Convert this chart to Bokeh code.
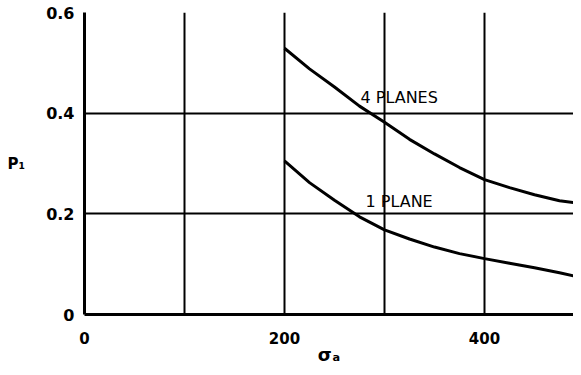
from bokeh.plotting import figure
from bokeh.models import FixedTicker, Label, Range1d
from bokeh.embed import file_html
from bokeh.resources import INLINE

# data
sigma_4 = [200, 225, 250, 275, 300, 325, 350, 375, 400, 425, 450, 475, 497]
p_4 = [0.529, 0.488, 0.452, 0.414, 0.382, 0.348, 0.319, 0.292, 0.268, 0.252, 0.238, 0.226, 0.220]
sigma_1 = [200, 225, 250, 275, 300, 325, 350, 375, 400, 425, 450, 475, 497]
p_1 = [0.305, 0.262, 0.227, 0.194, 0.168, 0.150, 0.134, 0.121, 0.111, 0.102, 0.093, 0.083, 0.073]
x_ticks = [0, 200, 400]
y_ticks = [0, 0.2, 0.4, 0.6]
y_tick_labels = {0: "0", 0.2: "0.2", 0.4: "0.4", 0.6: "0.6"}
x_grid = [100, 200, 300, 400]
y_grid = [0.2, 0.4, 0.6]
x_title = "σₐ"
y_title = "P₁"

FONT = "DejaVu Sans"

p = figure(width=573, height=367, output_backend="svg", toolbar_location=None,
           x_range=Range1d(0, 489), y_range=Range1d(0, 0.6),
           min_border_left=84, min_border_right=0, min_border_top=12, min_border_bottom=53)
p.outline_line_color = None
p.background_fill_color = "white"
p.border_fill_color = "white"

p.xaxis.ticker = FixedTicker(ticks=x_ticks)
p.yaxis.ticker = FixedTicker(ticks=y_ticks)
p.yaxis.major_label_overrides = y_tick_labels
p.xgrid.ticker = FixedTicker(ticks=x_grid)
p.ygrid.ticker = FixedTicker(ticks=y_grid)
for g in (p.xgrid, p.ygrid):
    g.grid_line_color = "black"
    g.grid_line_width = 2
    g.grid_line_alpha = 1

for ax in (p.xaxis, p.yaxis):
    ax.axis_line_color = "black"
    ax.axis_line_width = 3
    ax.major_tick_line_color = None
    ax.minor_tick_line_color = None
    ax.major_label_text_font = FONT
    ax.major_label_text_font_style = "bold"
    ax.major_label_text_font_size = "15px"
    ax.major_label_text_color = "black"
    ax.axis_label_text_font = FONT
    ax.axis_label_text_font_style = "bold"
    ax.axis_label_text_color = "black"
p.yaxis.major_label_text_font_size = "16px"
p.yaxis.major_label_standoff = 4
p.xaxis.major_label_standoff = 11

p.xaxis.axis_label = x_title
p.xaxis.axis_label_text_font_size = "18px"
p.xaxis.axis_label_standoff = -3

p.yaxis.axis_label = y_title
p.yaxis.axis_label_text_font_size = "15px"
p.yaxis.axis_label_standoff = 18
p.yaxis.axis_label_orientation = "horizontal"

p.line(sigma_4, p_4, line_color="black", line_width=3)
p.line(sigma_1, p_1, line_color="black", line_width=3)

p.add_layout(Label(x=276, y=0.432, text="4 PLANES", text_font=FONT, text_font_size="16px",
                   text_baseline="middle", text_color="black"))
p.add_layout(Label(x=281, y=0.225, text="1 PLANE", text_font=FONT, text_font_size="16px",
                   text_baseline="middle", text_color="black"))

open("out.html", "w").write(file_html(p, INLINE))
